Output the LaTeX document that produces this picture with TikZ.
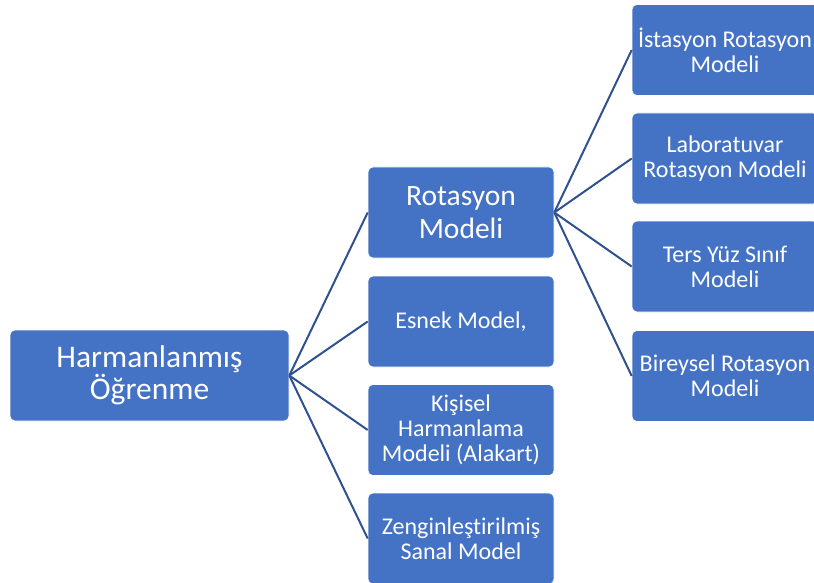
\documentclass[tikz,border=0pt]{standalone}
\usepackage{fontspec}
\setmainfont{Carlito}[Ligatures=CommonOff]
\definecolor{boxblue}{HTML}{4472C4}
\definecolor{linkblue}{HTML}{2F528F}

\begin{document}
\begin{tikzpicture}[x=1pt, y=-1pt,
  box/.style={draw=white, line width=0.6pt, fill=boxblue, rounded corners=5pt,
    text=white, minimum width=186pt, minimum height=91pt, align=center,
    inner sep=1pt, font=\fontsize{24}{25}\selectfont},
  link/.style={draw=linkblue, line width=2pt}]
 \useasboundingbox (0,0) rectangle (814,583);
 % root and first level
 \node[box, minimum width=279pt, font=\fontsize{31.5}{31.5}\selectfont] (hol) at (149.5,375.5) {Harmanlanmış\\Öğrenme};
 \node[box, font=\fontsize{29.5}{32.5}\selectfont] (rot) at (461,212.5) {Rotasyon\\Modeli};
 \node[box] (esn) at (461,321.5) {Esnek Model,};
 \node[box] (kis) at (461,430) {Kişisel\\Harmanlama\\Modeli (Alakart)};
 \node[box] (zen) at (461,538.5) {Zenginleştirilmiş\\Sanal Model};
 % second level
 \node[box] (ist) at (725,50) {İstasyon Rotasyon\\Modeli};
 \node[box] (lab) at (725,158.5) {Laboratuvar\\Rotasyon Modeli};
 \node[box] (ters) at (725,266.5) {Ters Yüz Sınıf\\Modeli};
 \node[box] (bir) at (725,376) {Bireysel Rotasyon\\Modeli};
 \path[link]
  (hol.east) edge (rot.west)
             edge (esn.west)
             edge (kis.west)
             edge (zen.west)
  (rot.east) edge (ist.west)
             edge (lab.west)
             edge (ters.west)
             edge (bir.west);
\end{tikzpicture}
\end{document}
